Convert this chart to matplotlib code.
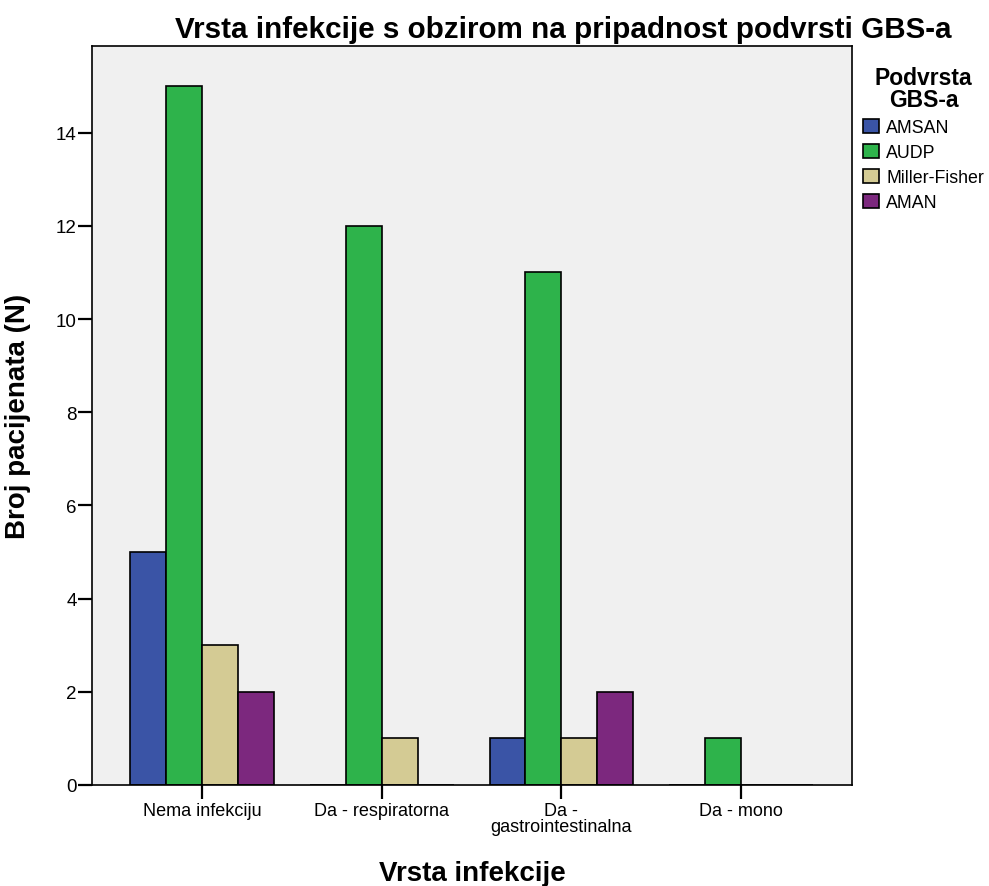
import matplotlib.pyplot as plt
import numpy as np

plt.rcParams['font.family'] = ['Liberation Sans', 'DejaVu Sans']

# data
categories = ['Nema infekciju', 'Da - respiratorna', 'Da -\ngastrointestinalna', 'Da - mono']
subtypes = ['AMSAN', 'AUDP', 'Miller-Fisher', 'AMAN']
amsan = [5, 0, 1, 0]
audp = [15, 12, 11, 1]
miller_fisher = [3, 1, 1, 0]
aman = [2, 0, 2, 0]
series = [amsan, audp, miller_fisher, aman]
colors = ['#3a54a6', '#2eb34b', '#d4cb94', '#7c287e']

fig = plt.figure(figsize=(9.89, 8.87), dpi=100)
ax = fig.add_axes([92 / 989, 101 / 887, 760 / 989, 739 / 887])
ax.set_facecolor('#f0f0f0')

x = np.arange(len(categories))
w = 0.2
handles = []
for i, (vals, col) in enumerate(zip(series, colors)):
    h = ax.bar(x + (i - 1.5) * w, vals, w, color=col, edgecolor='black',
               linewidth=1.2, label=subtypes[i])
    handles.append(h)

ax.set_xlim(-0.612, 3.617)
ax.set_ylim(0, 15.86)
ax.set_yticks(range(0, 15, 2))
ax.set_xticks(x)
ax.set_xticklabels(categories, fontsize=13, linespacing=0.95)
ax.tick_params(axis='y', labelsize=13.5, length=10, width=1.6, pad=1)
ax.tick_params(axis='x', length=10, width=1.6, pad=2)
for s in ax.spines.values():
    s.set_linewidth(1.2)

ax.set_ylabel('Broj pacijenata (N)', fontsize=20, fontweight='bold', labelpad=18)
ax.set_xlabel('Vrsta infekcije', fontsize=20, fontweight='bold', labelpad=18)

fig.text(563 / 989, 1 - 38 / 887, 'Vrsta infekcije s obzirom na pripadnost podvrsti GBS-a',
         ha='center', va='baseline', fontsize=21.3, fontweight='bold')

leg = fig.legend(handles=handles, loc='upper left', bbox_to_anchor=(854 / 989, 1 - 58 / 887),
                 frameon=False, fontsize=12.8, title='Podvrsta\nGBS-a',
                 title_fontproperties={'weight': 'bold', 'size': 16.5},
                 borderpad=0, handlelength=0.9, handleheight=0.8,
                 handletextpad=0.4, labelspacing=0.45)
leg._legend_box.align = 'center'
leg.get_title().set_multialignment('center')
leg.get_title().set_linespacing(0.95)

fig.savefig('out.png', dpi=100)
